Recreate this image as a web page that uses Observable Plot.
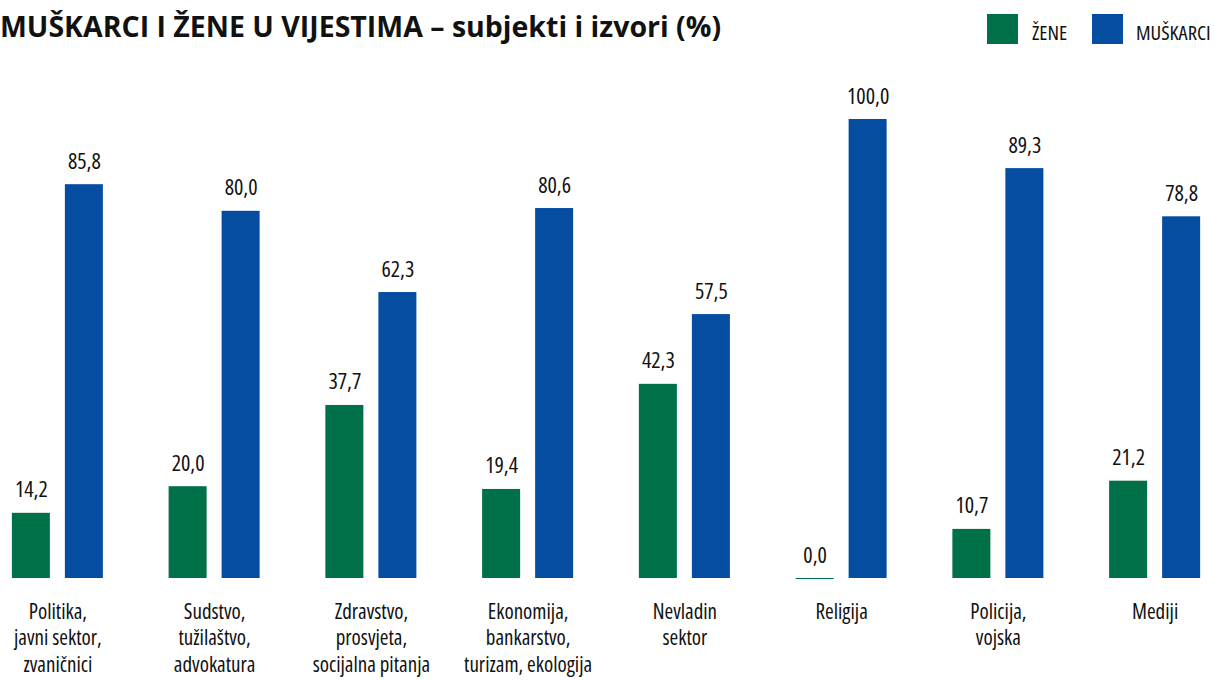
<!DOCTYPE html>
<html>
<head>
<meta charset="utf-8">
<script src="https://cdn.jsdelivr.net/npm/d3@7"></script>
<script src="https://cdn.jsdelivr.net/npm/@observablehq/plot@0.6"></script>
<style>
  html, body { margin: 0; padding: 0; background: #fff; overflow: hidden; }
  body { width: 1215px; height: 680px; position: relative; font-family: "Open Sans", sans-serif; }
  #header { position: relative; height: 60px; width: 1215px; }
  #title { position: absolute; left: 0px; top: 12px; font-family: "Open Sans", sans-serif; font-weight: 700; font-size: 28.5px; line-height: 28.5px; color: #111; white-space: nowrap; }
  .sw { position: absolute; top: 14px; width: 31px; height: 30px; }
  .lt { position: absolute; top: 22px; font-size: 20.5px; line-height: 20.5px; font-stretch: 75%; color: #111; white-space: nowrap; }
  #chart svg, #chart svg text { font-family: "Open Sans", sans-serif; font-stretch: 75%; }
</style>
</head>
<body>
<div id="header">
  <div id="title">MUŠKARCI I ŽENE U VIJESTIMA – subjekti i izvori (%)</div>
  <div class="sw" style="left:987px; background:#007048"></div>
  <div class="lt" style="left:1032px">ŽENE</div>
  <div class="sw" style="left:1092px; background:#044DA1"></div>
  <div class="lt" style="left:1136px">MUŠKARCI</div>
</div>
<div id="chart"></div>
<script>
const categories = [
  "Politika,\njavni sektor,\nzvaničnici",
  "Sudstvo,\ntužilaštvo,\nadvokatura",
  "Zdravstvo,\nprosvjeta,\nsocijalna pitanja",
  "Ekonomija,\nbankarstvo,\nturizam, ekologija",
  "Nevladin\nsektor",
  "Religija",
  "Policija,\nvojska",
  "Mediji"
];
const series = ["ŽENE", "MUŠKARCI"];
const zene = [14.2, 20.0, 37.7, 19.4, 42.3, 0.0, 10.7, 21.2];
const muskarci = [85.8, 80.0, 62.3, 80.6, 57.5, 100.0, 89.3, 78.8];
const colors = ["#007048", "#044DA1"];

const data = [];
categories.forEach((c, i) => {
  data.push({cat: c, s: series[0], v: zene[i]});
  data.push({cat: c, s: series[1], v: muskarci[i]});
});
const fmt = v => d3.format(".1f")(v).replace(".", ",");

const chart = Plot.plot({
  width: 1215,
  height: 620,
  marginTop: 59,
  marginBottom: 102,
  marginLeft: -21,
  marginRight: -18,
  style: {fontFamily: "Open Sans, sans-serif", color: "#111", background: "#fff", overflow: "visible"},
  fx: {domain: categories, padding: 0, round: false, axis: null},
  x: {domain: series, paddingInner: 15/53, paddingOuter: 0.62, round: false, axis: null},
  y: {domain: [0, 100], axis: null},
  color: {domain: series, range: colors},
  marks: [
    Plot.barY(data, {fx: "cat", x: "s", y: "v", fill: "s"}),
    Plot.tickY(data.filter(d => d.v === 0), {fx: "cat", x: "s", y: "v", stroke: "s", strokeWidth: 1}),
    Plot.text(data, {fx: "cat", x: "s", y: "v", text: d => fmt(d.v), lineAnchor: "bottom", dy: -16, fontSize: 22, fill: "#111"}),
    Plot.axisFx({anchor: "bottom", tickSize: 0, tickPadding: 22, fontSize: 21, lineHeight: 1.25, label: null, tickFormat: d => d, fill: "#111"})
  ]
});
document.getElementById("chart").appendChild(chart);
</script>
</body>
</html>
